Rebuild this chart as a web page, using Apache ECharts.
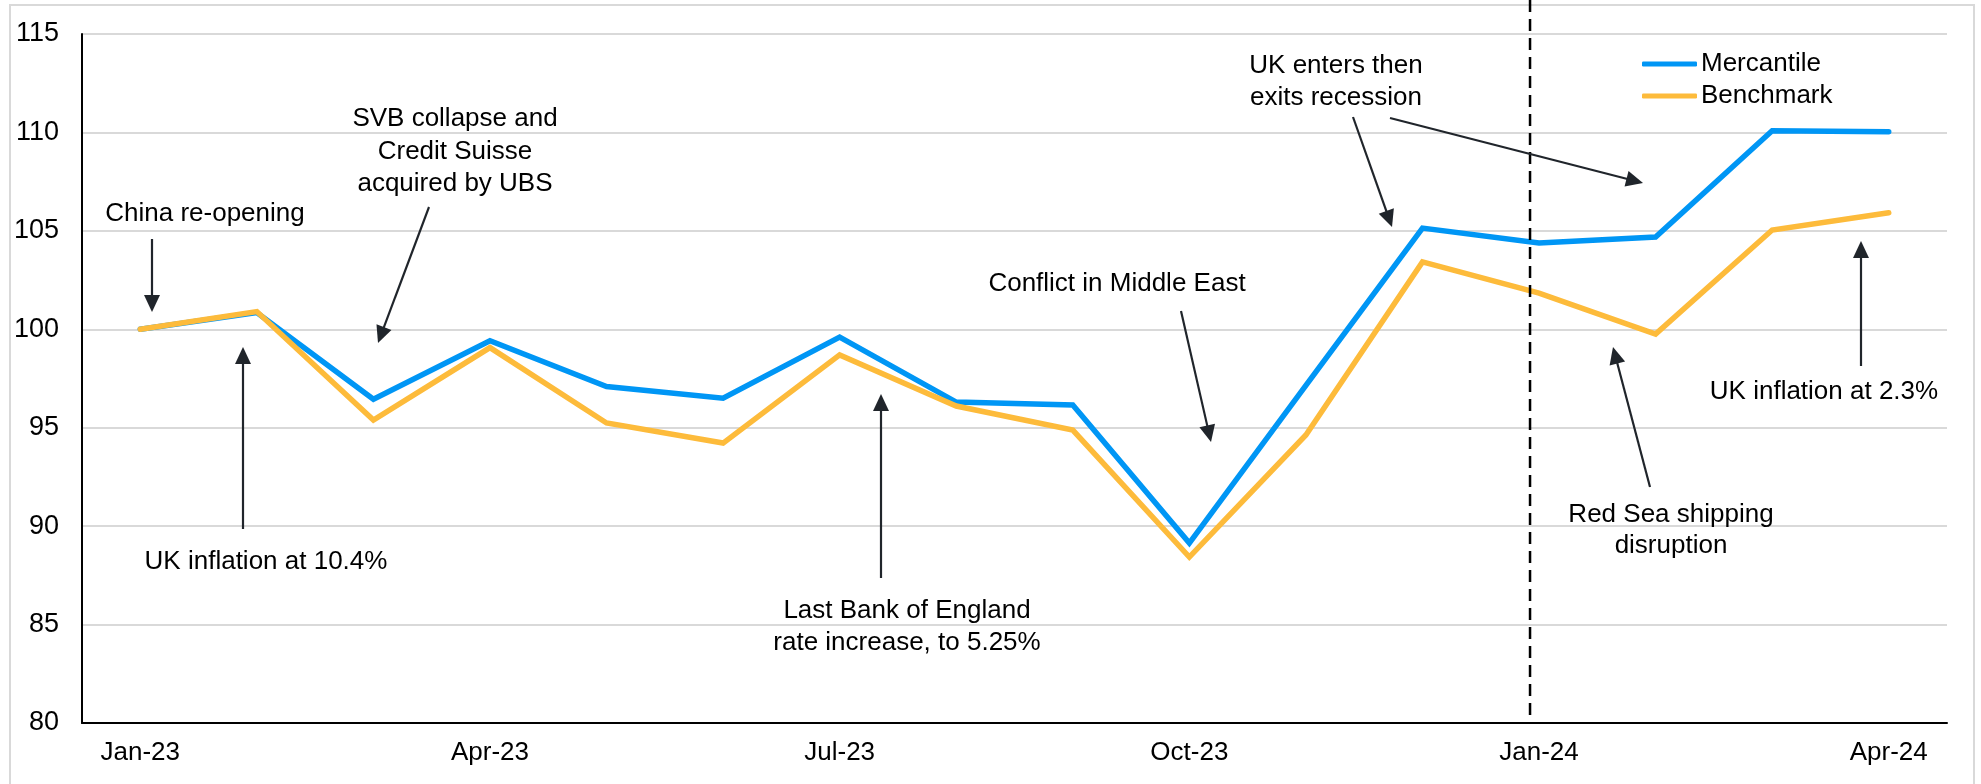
<!DOCTYPE html>
<html>
<head>
<meta charset="utf-8">
<script src="https://cdn.jsdelivr.net/npm/echarts@6/dist/echarts.min.js"></script>
<style>
html,body{margin:0;padding:0;background:#fff;}
#chart{width:1981px;height:784px;}
</style>
</head>
<body>
<div id="chart"></div>
<script>
const categories = ['Jan-23','Feb-23','Mar-23','Apr-23','May-23','Jun-23','Jul-23','Aug-23','Sep-23','Oct-23','Nov-23','Dec-23','Jan-24','Feb-24','Mar-24','Apr-24'];
const mercantile = [100, 100.85, 96.45, 99.42, 97.09, 96.5, 99.6, 96.3, 96.15, 89.14, 97.15, 105.14, 104.38, 104.69, 110.09, 110.04];
const benchmark  = [100, 100.9, 95.39, 99.07, 95.24, 94.22, 98.7, 96.1, 94.88, 88.43, 94.63, 103.42, 101.84, 99.76, 105.04, 105.92];
const seriesNames = ['Mercantile', 'Benchmark'];
const yTicks = {min: 80, max: 115, interval: 5};
const markerCategory = 'Jan-24';

const annotations = [
  {text: 'China re-opening', x: 205, y: 198, lh: 32, from: [152, 239], to: [152, 312]},
  {text: 'UK inflation at 10.4%', x: 266, y: 546, lh: 32, from: [243, 529], to: [243, 347]},
  {text: 'SVB collapse and\nCredit Suisse\nacquired by UBS', x: 455, y: 103, lh: 32.5, from: [429, 207], to: [378, 343]},
  {text: 'Last Bank of England\nrate increase, to 5.25%', x: 907, y: 595, lh: 32, from: [881, 578], to: [881, 394]},
  {text: 'Conflict in Middle East', x: 1117, y: 268, lh: 32, from: [1181, 311], to: [1211, 442]},
  {text: 'UK enters then\nexits recession', x: 1336, y: 50, lh: 32, from: [1353, 117], to: [1392, 227]},
  {text: null, from: [1390, 118], to: [1643, 183]},
  {text: 'Red Sea shipping\ndisruption', x: 1671, y: 499, lh: 31, from: [1650, 487], to: [1613, 347]},
  {text: 'UK inflation at 2.3%', x: 1824, y: 376, lh: 32, from: [1861, 366], to: [1861, 241]}
];

const FONT = '"Liberation Sans", Arial, sans-serif';
const ARROW_COLOR = '#20252b';

function arrow(from, to) {
  const dx = to[0] - from[0], dy = to[1] - from[1];
  const len = Math.sqrt(dx*dx + dy*dy);
  const ux = dx/len, uy = dy/len;
  const hl = 17, hw = 8;
  const bx = to[0] - ux*hl, by = to[1] - uy*hl;
  const px = -uy, py = ux;
  return [
    {type: 'line', z: 50, shape: {x1: from[0], y1: from[1], x2: bx + ux*2, y2: by + uy*2},
     style: {stroke: ARROW_COLOR, lineWidth: 2.2}},
    {type: 'polygon', z: 50, shape: {points: [[to[0], to[1]], [bx + px*hw, by + py*hw], [bx - px*hw, by - py*hw]]},
     style: {fill: ARROW_COLOR}}
  ];
}

const chart = echarts.init(document.getElementById('chart'), null, {renderer: 'canvas'});

const option = {
  backgroundColor: '#ffffff',
  animation: false,
  textStyle: {fontFamily: FONT},
  grid: {left: 82, right: 34, top: 34, bottom: 61, containLabel: false},
  legend: {
    orient: 'vertical',
    left: 1637,
    top: 46,
    itemWidth: 55,
    itemHeight: 5,
    itemGap: 6,
    icon: 'roundRect',
    data: seriesNames,
    textStyle: {fontSize: 26, color: '#000', fontFamily: FONT, lineHeight: 26, padding: [0, 0, 0, -1]}
  },
  xAxis: {
    type: 'category',
    data: categories,
    boundaryGap: true,
    axisLine: {show: true, lineStyle: {color: '#000', width: 2}},
    axisTick: {show: false},
    axisLabel: {interval: 2, fontSize: 26, color: '#000', margin: 17, fontFamily: FONT},
    splitLine: {show: false}
  },
  yAxis: {
    type: 'value',
    min: yTicks.min, max: yTicks.max, interval: yTicks.interval,
    axisLine: {show: true, lineStyle: {color: '#000', width: 2}},
    axisTick: {show: false},
    axisLabel: {fontSize: 27, color: '#000', margin: 23, fontFamily: FONT},
    splitLine: {show: true, lineStyle: {color: '#d9d9d9', width: 2}}
  },
  series: [
    {
      name: seriesNames[0], type: 'line', data: mercantile,
      symbol: 'none', color: '#0096f5',
      lineStyle: {width: 5.5, color: '#0096f5', cap: 'round', join: 'miter'},
      z: 3
    },
    {
      name: seriesNames[1], type: 'line', data: benchmark,
      symbol: 'none', color: '#fdbb3b',
      lineStyle: {width: 5.5, color: '#fdbb3b', cap: 'round', join: 'miter'},
      z: 4
    }
  ]
};

chart.setOption(option);

// Build overlay graphics (border, dashed marker line, annotations)
const gx = chart.convertToPixel({xAxisIndex: 0}, markerCategory) - 9;
const gyBottom = chart.convertToPixel({yAxisIndex: 0}, yTicks.min);

const graphics = [
  {type: 'rect', z: -10, silent: true, shape: {x: 10, y: 5, width: 1964, height: 800},
   style: {fill: 'none', stroke: '#d9d9d9', lineWidth: 2}},
  {type: 'line', z: 20, shape: {x1: gx, y1: 0, x2: gx, y2: gyBottom},
   style: {stroke: '#000', lineWidth: 2.5, lineDash: [12, 7]}}
];

annotations.forEach(a => {
  if (a.text) {
    graphics.push({
      type: 'text', z: 60,
      style: {
        text: a.text, x: a.x, y: a.y,
        font: '26px ' + FONT,
        fontSize: 26, fontFamily: FONT,
        fill: '#000',
        textAlign: 'center', align: 'center',
        textVerticalAlign: 'top', verticalAlign: 'top',
        lineHeight: a.lh
      }
    });
  }
  arrow(a.from, a.to).forEach(g => graphics.push(g));
});

chart.setOption({graphic: graphics});
</script>
</body>
</html>
